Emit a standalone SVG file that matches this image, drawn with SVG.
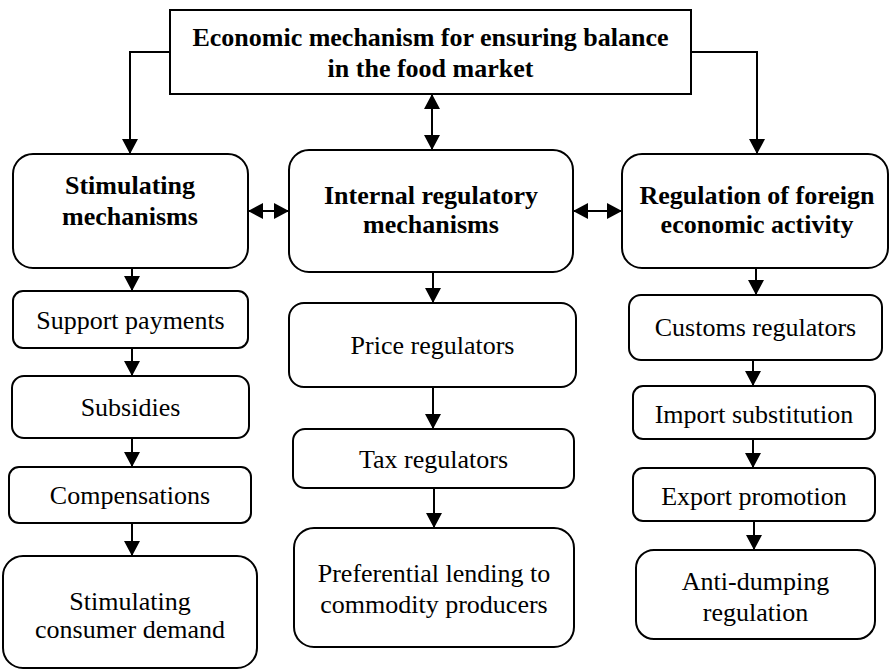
<svg xmlns="http://www.w3.org/2000/svg" width="890" height="671" viewBox="0 0 890 671">
<style>
.box{fill:#fff;stroke:#000;stroke-width:2}
.c{fill:none;stroke:#000;stroke-width:2}
text{font-family:"Liberation Serif","Times New Roman",serif;font-size:26px;text-anchor:middle;fill:#000}
.b{font-weight:bold}
</style>
<defs>
<marker id="ah" markerUnits="userSpaceOnUse" markerWidth="15" markerHeight="16" refX="15" refY="8" orient="auto-start-reverse">
<path d="M0,0 L15,8 L0,16 z" fill="#000"/>
</marker>
</defs>
<rect width="890" height="671" fill="#fff"/>
<g id="connectors">
<polyline class="c" points="170,52 130,52 130,154" marker-end="url(#ah)"/>
<polyline class="c" points="691,52 757,52 757,154" marker-end="url(#ah)"/>
<line class="c" x1="432" y1="94" x2="432" y2="150" marker-start="url(#ah)" marker-end="url(#ah)"/>
<line class="c" x1="248" y1="211" x2="289" y2="211" marker-start="url(#ah)" marker-end="url(#ah)"/>
<line class="c" x1="573" y1="211" x2="622" y2="211" marker-start="url(#ah)" marker-end="url(#ah)"/>
<line class="c" x1="132" y1="268" x2="132" y2="291" marker-end="url(#ah)"/>
<line class="c" x1="132" y1="348" x2="132" y2="376" marker-end="url(#ah)"/>
<line class="c" x1="132" y1="438" x2="132" y2="467" marker-end="url(#ah)"/>
<line class="c" x1="132" y1="523" x2="132" y2="556" marker-end="url(#ah)"/>
<line class="c" x1="433" y1="272" x2="433" y2="303" marker-end="url(#ah)"/>
<line class="c" x1="433" y1="387" x2="433" y2="429" marker-end="url(#ah)"/>
<line class="c" x1="434" y1="488" x2="434" y2="528" marker-end="url(#ah)"/>
<line class="c" x1="756" y1="268" x2="756" y2="295" marker-end="url(#ah)"/>
<line class="c" x1="753" y1="360" x2="753" y2="386" marker-end="url(#ah)"/>
<line class="c" x1="753" y1="439" x2="753" y2="468" marker-end="url(#ah)"/>
<line class="c" x1="754" y1="521" x2="754" y2="550" marker-end="url(#ah)"/>
</g>
<g id="top">
<rect class="box" x="170" y="10" width="521" height="84"/>
<text class="b" x="430.5" y="46">Economic mechanism for ensuring balance</text>
<text class="b" x="430.5" y="77">in the food market</text>
</g>
<g id="stimulating">
<rect class="box" x="13" y="154" width="235" height="114" rx="20"/>
<text class="b" x="130" y="194">Stimulating</text>
<text class="b" x="130" y="225">mechanisms</text>
</g>
<g id="internal">
<rect class="box" x="289" y="150" width="284" height="122" rx="20"/>
<text class="b" x="431" y="204">Internal regulatory</text>
<text class="b" x="431" y="233">mechanisms</text>
</g>
<g id="foreign">
<rect class="box" x="622" y="154" width="266" height="114" rx="20"/>
<text class="b" x="757" y="204">Regulation of foreign</text>
<text class="b" x="757" y="233">economic activity</text>
</g>
<g id="support">
<rect class="box" x="13" y="291" width="235" height="57" rx="10"/>
<text x="130.5" y="329">Support payments</text>
</g>
<g id="subsidies">
<rect class="box" x="12" y="376" width="237" height="62" rx="12"/>
<text x="130.5" y="416">Subsidies</text>
</g>
<g id="compensations">
<rect class="box" x="9" y="467" width="242" height="56" rx="10"/>
<text x="130" y="504">Compensations</text>
</g>
<g id="demand">
<rect class="box" x="3" y="556" width="254" height="112" rx="20"/>
<text x="130" y="610">Stimulating</text>
<text x="130" y="638">consumer demand</text>
</g>
<g id="price">
<rect class="box" x="289" y="303" width="287" height="84" rx="15"/>
<text x="432.5" y="354">Price regulators</text>
</g>
<g id="tax">
<rect class="box" x="293" y="429" width="281" height="59" rx="12"/>
<text x="433.5" y="468">Tax regulators</text>
</g>
<g id="lending">
<rect class="box" x="294" y="528" width="280" height="119" rx="20"/>
<text x="434" y="582">Preferential lending to</text>
<text x="434" y="613">commodity producers</text>
</g>
<g id="customs">
<rect class="box" x="629" y="295" width="253" height="65" rx="12"/>
<text x="755.5" y="336">Customs regulators</text>
</g>
<g id="import">
<rect class="box" x="633" y="386" width="242" height="53" rx="10"/>
<text x="754" y="423">Import substitution</text>
</g>
<g id="export">
<rect class="box" x="633" y="468" width="242" height="53" rx="10"/>
<text x="754" y="505">Export promotion</text>
</g>
<g id="antidumping">
<rect class="box" x="636" y="550" width="239" height="89" rx="18"/>
<text x="755.5" y="590">Anti-dumping</text>
<text x="755.5" y="621">regulation</text>
</g>
</svg>
